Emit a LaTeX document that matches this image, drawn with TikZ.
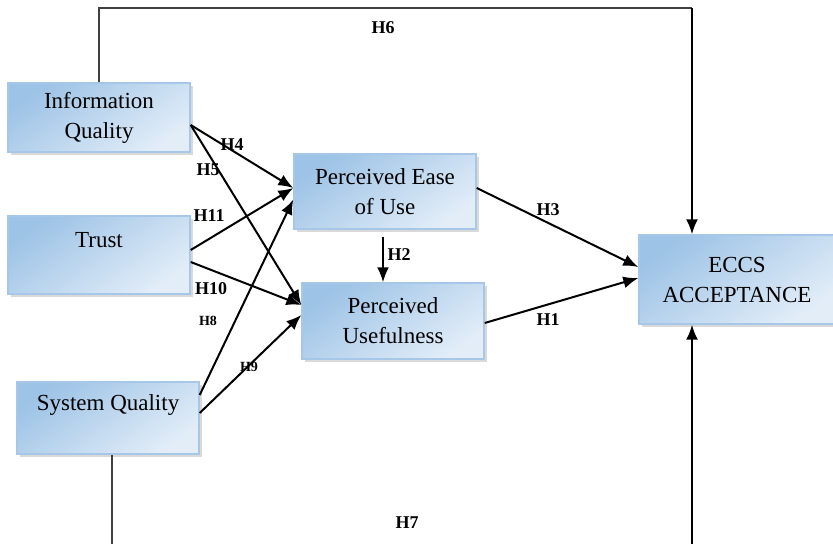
\documentclass[tikz,border=0pt]{standalone}
\usepackage{fontspec}
\setmainfont{Liberation Serif}
\usetikzlibrary{arrows.meta}
\usetikzlibrary{calc, shadows}
\definecolor{boxdark}{HTML}{9DC3E6}
\definecolor{boxlight}{HTML}{E2EDF8}
\definecolor{boxedge}{HTML}{A6C7E7}
\definecolor{framegray}{HTML}{404040}

\tikzset{
  box/.style={draw=boxedge, line width=0.7pt, top color=boxdark, bottom color=boxlight,
    shading angle=35, align=center, minimum width=91pt,
    font=\fontsize{11.5}{15}\selectfont,
    drop shadow={shadow xshift=1.5pt, shadow yshift=-1.5pt, opacity=0.3, fill=gray}},
  hyp/.style={-{Latex[length=7.5pt,width=6pt]}, line width=1pt, black},
  frame/.style={line width=0.8pt, framegray},
  hlab/.style={font=\fontsize{9}{10}\selectfont\bfseries, inner sep=0pt},
  hlabsmall/.style={font=\fontsize{7}{8}\selectfont\bfseries, inner sep=0pt}
}

\begin{document}
\begin{tikzpicture}[x=0.5pt, y=-0.5pt]

    \clip (0,0) rectangle (833,544);

    % Konstrukte
    \node[box, minimum height=34.5pt] (iq) at (99,117.5) {Information\\Quality};
    \node[box, minimum height=39pt] (trust) at (99,255) {Trust\\~};
    \node[box, minimum height=36pt] (sysq) at (108,418) {System Quality\\~};
    \node[box, minimum height=37.5pt] (peou) at (385,191.5) {Perceived Ease\\of Use};
    \node[box, minimum height=38pt] (pu) at (393,321) {Perceived\\Usefulness};
    \node[box, minimum width=98pt, minimum height=44.5pt] (eccs) at (737,279.5) {ECCS\\ACCEPTANCE};

    % Hypothesen
    \draw[hyp] ($(iq.east)+(0,7.5)$) -- ($(peou.west)+(0,-3.5)$);
    \draw[hyp] ($(iq.east)+(0,7.5)$) -- ($(pu.west)+(0,-16)$);
    \draw[hyp] ($(trust.east)+(0,-5)$) -- ($(peou.west)+(0,-3.5)$);
    \draw[hyp] ($(trust.east)+(0,7)$) -- ($(pu.west)+(0,-16)$);
    \draw[hyp] ($(sysq.east)+(0,-23)$) -- ($(peou.west)+(0,8)$);
    \draw[hyp] ($(sysq.east)+(0,-5)$) -- ($(pu.west)+(0,-6)$);
    \draw[hyp] ($(peou.east)+(0,-3.5)$) -- ($(eccs.west)+(0,-12.5)$);
    \draw[hyp] ($(pu.east)+(0,2)$) -- ($(eccs.west)+(0,-1.5)$);
    \coordinate (h2top) at ($(peou.south)+(-2,0)$);
    \draw[hyp, shorten <=3.5pt] (h2top) -- (h2top |- pu.north);

    % Rahmenlinien H6 und H7
    \coordinate (h6corner) at (692,8);
    \coordinate (h7corner) at (692,550);
    \draw[frame] (iq.north) |- (h6corner);
    \draw[hyp] (h6corner) -- (h6corner |- eccs.north);
    \draw[frame] ($(sysq.south)+(4,0)$) |- (h7corner);
    \draw[hyp] (h7corner) -- (h7corner |- eccs.south);

    % Beschriftungen
    \node[hlab] (l6) at (383,28) {H6};
    \node[hlab] (l7) at (407,523) {H7};
    \node[hlab] (l4) at (232,145) {H4};
    \node[hlab] (l5) at (208,170) {H5};
    \node[hlab] (l11) at (209,216) {H11};
    \node[hlab] (l10) at (211,289) {H10};
    \node[hlabsmall] (l8) at (208,321) {H8};
    \node[hlabsmall] (l9) at (249,367) {H9};
    \node[hlab] (l3) at (548,210) {H3};
    \node[hlab] (l1) at (548,320) {H1};
    \node[hlab] (l2) at (399,255) {H2};
\end{tikzpicture}
\end{document}
